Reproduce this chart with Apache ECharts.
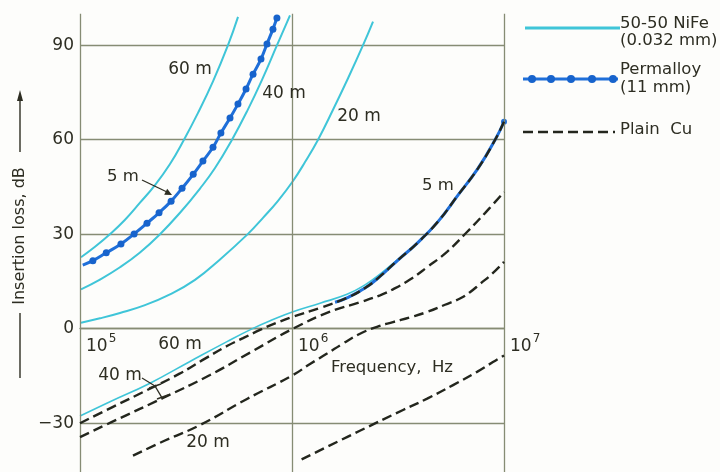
<!DOCTYPE html>
<html><head><meta charset="utf-8">
<script src="https://cdn.jsdelivr.net/npm/echarts@6/dist/echarts.min.js"></script>
<style>html,body{margin:0;padding:0;background:#fff}#c{width:720px;height:472px}</style>
</head><body><div id="c"></div>
<script>
// ---- data (frequency in Hz, insertion loss in dB) ----
const xTickExponents = [5, 6, 7];
const yTicks = [-30, 0, 30, 60, 90];

// 50-50 NiFe (0.032 mm)
const nife60 = [[1.011e5,22.7],[1.177e5,26],[1.400e5,30.3],[1.631e5,34.6],[1.919e5,40.0],[2.258e5,45.6],[2.658e5,52.3],[3.094e5,60],[3.603e5,68.5],[4.240e5,78.5],[4.990e5,90],[5.564e5,99]];
const nife40 = [[1.011e5,12.5],[1.242e5,15.6],[1.544e5,19.5],[1.919e5,24.2],[2.385e5,30],[2.963e5,36.8],[3.682e5,44.5],[4.334e5,51],[5.212e5,60],[6.134e5,69],[7.220e5,79],[8.498e5,90],[9.785e5,99.5]];
const nife20 = [[1.011e5,1.9],[1.242e5,3.3],[1.544e5,5.0],[2.026e5,7.5],[2.658e5,10.9],[3.487e5,15.5],[4.576e5,22],[6.200e5,30.1],[7.298e5,35.2],[8.590e5,40.6],[1.011e6,46.9],[1.152e6,52.9],[1.327e6,60],[1.561e6,69.5],[1.838e6,79.5],[2.163e6,90],[2.411e6,97.5]];
const nife5  = [[1.0e5,-27.7],[1.385e5,-23.2],[2.139e5,-17.3],[3.303e5,-10.4],[4.936e5,-4.1],[6.548e5,0.1],[8.136e5,2.9],[1.011e6,5.4],[1.356e6,8.1],[1.818e6,10.9],[2.210e6,13.9],[2.601e6,17.3],[3.162e6,22.0],[3.888e6,27.1],[4.883e6,34],[6.068e6,42.4],[7.540e6,50.9],[9.070e6,59.9],[1.0e7,65.7]];
// Permalloy (11 mm)
const perm5  = [[1.03e5,20.2],[1.15e5,21.6],[1.33e5,24.1],[1.56e5,26.9],[1.80e5,30.1],[2.07e5,33.5],[2.36e5,36.8],[2.69e5,40.5],[3.03e5,44.6],[3.42e5,49.0],[3.80e5,53.2],[4.24e5,57.6],[4.62e5,62.1],[5.10e5,66.9],[5.56e5,71.3],[6.07e5,76.1],[6.55e5,80.8],[7.14e5,85.6],[7.62e5,90.4],[8.13e5,95.1],[8.49e5,98.6]];
const perm5Right = [[1.596e6,8.4],[1.818e6,9.8],[2.210e6,12.9],[2.601e6,16.6],[3.162e6,21.8],[3.888e6,27.1],[4.883e6,34],[6.068e6,42.4],[7.540e6,50.9],[9.070e6,59.9],[1.0e7,65.7]];
// Plain Cu
const cuA = [[1.0e5,-30],[1.431e5,-24.8],[2.070e5,-19.5],[2.963e5,-14.2],[3.888e5,-9.5],[4.936e5,-5.5],[5.874e5,-3],[7.065e5,-0.4],[8.406e5,1.8],[1.011e6,3.8],[1.356e6,6.6],[1.818e6,9.8],[2.210e6,12.9],[2.601e6,16.6],[3.162e6,21.8],[3.888e6,27.1],[4.883e6,34],[6.068e6,42.4],[7.540e6,50.9],[9.070e6,59.9],[1.0e7,65.7]];
const cuB = [[1.0e5,-34.4],[1.544e5,-28.4],[2.463e5,-22],[4.105e5,-14.7],[6.338e5,-7.6],[1.011e6,0],[1.511e6,5.4],[2.093e6,8.4],[2.601e6,10.6],[2.995e6,12.5],[3.603e6,15.6],[4.334e6,19.5],[5.384e6,24.4],[6.692e6,30.7],[8.136e6,36.7],[1.0e7,43.4]];
const cuC = [[1.778e5,-40.3],[2.518e5,-35.5],[3.682e5,-30.6],[6.134e5,-22.3],[1.011e6,-14.7],[1.216e6,-11.2],[1.463e6,-7.9],[1.740e6,-4.7],[2.093e6,-1.6],[2.518e6,0.6],[2.995e6,2.1],[3.603e6,3.6],[4.334e6,5.3],[5.269e6,7.6],[6.201e6,9.6],[6.911e6,11.6],[7.706e6,14.2],[8.779e6,17.4],[1.0e7,21.2]];
const cuD = [[1.11e6,-41.5],[2.09e6,-32.4],[3.34e6,-25.8],[4.34e6,-22.2],[5.75e6,-17.9],[7.46e6,-13.7],[8.87e6,-10.6],[1.0e7,-8.5]];

// legend swatch coordinates (legend grid space)
const legendNiFe = [[5,28],[100,28]];
const legendPermDots = [12,31,51,72,93];
const legendPermLine = [3,98];
const legendCu = [[3,132],[95,132]];

// ---- styles ----
const FONT = 'DejaVu Sans';
const TXT = '#2d2d22';
const GRIDC = '#868c74';
const CYAN = '#3fc5d8';
const BLUE = '#1f6fd9';
const DASH = '#23261d';

const chart = echarts.init(document.getElementById('c'), null, {renderer:'canvas'});

function curve(data, color, width, extra) {
  return Object.assign({
    type:'line', xAxisIndex:0, yAxisIndex:0, data:data, smooth:0.45,
    symbol:'none', silent:true, animation:false,
    lineStyle:{color:color, width:width}, itemStyle:{color:color}, z:3
  }, extra||{});
}
function dashed(data) {
  return curve(data, DASH, 2.4, {lineStyle:{color:DASH, width:2.4, type:[10,5]}, z:5});
}

const vLines = xTickExponents.map(e => [{coord:[Math.pow(10,e), -60]}, {coord:[Math.pow(10,e), 100]}]);

const permLegendData = [[legendPermLine[0],79]].concat(legendPermDots.map(x=>[x,79])).concat([[legendPermLine[1],79]])
  .map((p,i,a)=> (i===0||i===a.length-1) ? {value:p, symbol:'none'} : p);

const perm5Data = perm5.map((p,i)=> i===0 ? {value:p, symbol:'none'} : p);
const perm5RightData = perm5Right.map((p,i,a)=> i===a.length-1 ? {value:p, symbol:'circle', symbolSize:6} : p);

function txt(text, x, y, size, align, extra) {
  return Object.assign({type:'text', x:x, y:y, silent:true, z:50,
    style:{text:text, fill:TXT, font: size+'px "'+FONT+'"', textAlign:align||'center', align:align||'center',
      textVerticalAlign:'middle', verticalAlign:'middle'}}, extra||{});
}
function ln(x1,y1,x2,y2,w){ return {type:'line', silent:true, z:50, shape:{x1,y1,x2,y2}, style:{stroke:TXT, lineWidth:w||1.3}}; }

const option = {
  backgroundColor:'#fdfdfb',
  animation:false,
  grid:[
    {left:80, top:-49.3, width:424, height:567, outerBoundsMode:'none', containLabel:false},
    {left:520, top:0, width:100, height:150, outerBoundsMode:'none', containLabel:false}
  ],
  xAxis:[
    {type:'log', logBase:10, min:1e5, max:1e7, gridIndex:0, position:'bottom', offset:-189,
      splitLine:{show:false}, axisTick:{show:false},
      axisLine:{show:true, onZero:false, lineStyle:{color:GRIDC, width:1.3}},
      axisLabel:{show:true, align:'left', margin:4, padding:[0,0,0,6], hideOverlap:false,
        formatter: v => '{b|10}{s|' + Math.round(Math.log10(v)) + '}',
        rich:{ b:{fontSize:17, fontFamily:FONT, color:TXT, lineHeight:22, verticalAlign:'bottom'},
               s:{fontSize:12, fontFamily:FONT, color:TXT, lineHeight:13, verticalAlign:'top', padding:[0,0,0,1]} } }
    },
    {type:'value', min:0, max:100, gridIndex:1, show:false}
  ],
  yAxis:[
    {type:'value', min:-60, max:120, interval:30, gridIndex:0,
      axisLine:{show:false, onZero:false}, axisTick:{show:false},
      splitLine:{show:true, lineStyle:{color:GRIDC, width:1.3}},
      axisLabel:{margin:6, fontSize:17, fontFamily:FONT, color:TXT,
        formatter: v => yTicks.includes(v) ? (v<0 ? '\u2212'+(-v) : String(v)) : ''}
    },
    {type:'value', min:0, max:150, inverse:true, gridIndex:1, show:false}
  ],
  series:[
    {type:'line', xAxisIndex:0, yAxisIndex:0, data:[], silent:true, z:1,
      markLine:{silent:true, symbol:['none','none'], animation:false, label:{show:false},
        lineStyle:{color:GRIDC, width:1.3, type:'solid'}, data:vLines}},
    curve(nife60, CYAN, 2),
    curve(nife40, CYAN, 2),
    curve(nife20, CYAN, 2),
    curve(nife5, CYAN, 1.6),
    curve(perm5Right, BLUE, 3, {data:perm5RightData, z:4}),
    curve(perm5Data, BLUE, 3, {symbol:'circle', symbolSize:7, showAllSymbol:true, itemStyle:{color:'#1763cc'}, z:4}),
    dashed(cuA), dashed(cuB), dashed(cuC), dashed(cuD),
    // legend swatches
    {type:'line', xAxisIndex:1, yAxisIndex:1, data:legendNiFe, symbol:'none', silent:true, lineStyle:{color:CYAN, width:3}},
    {type:'line', xAxisIndex:1, yAxisIndex:1, data:permLegendData, symbol:'circle', symbolSize:8, silent:true,
      lineStyle:{color:BLUE, width:3}, itemStyle:{color:'#1763cc'}},
    {type:'line', xAxisIndex:1, yAxisIndex:1, data:legendCu, symbol:'none', silent:true, lineStyle:{color:DASH, width:2.4, type:[10,5]}}
  ],
  graphic:[
    // legend text
    txt('50-50 NiFe', 620, 24, 16.5, 'left'),
    txt('(0.032 mm)', 620, 41, 16.5, 'left'),
    txt('Permalloy', 620, 70, 16.5, 'left'),
    txt('(11 mm)', 620, 88, 16.5, 'left'),
    txt('Plain  Cu', 620, 130, 16.5, 'left'),
    // curve annotations
    txt('60 m', 190, 70, 17),
    txt('40 m', 284, 94, 17),
    txt('20 m', 359, 117, 17),
    txt('5 m', 123, 177, 16.5),
    txt('60 m', 180, 345, 17),
    txt('40 m', 120, 376, 17),
    txt('20 m', 208, 443, 17),
    txt('5 m', 438, 186, 16.5),
    txt('Frequency,  Hz', 392, 368, 16.5),
    // y axis name
    txt('Insertion loss, dB', 20, 236, 16, 'center', {rotation:Math.PI/2}),
    ln(20, 313, 20, 378, 1.4),
    ln(20, 152, 20, 97, 1.4),
    {type:'polygon', silent:true, z:50, shape:{points:[[17,101],[23,101],[20,90]]}, style:{fill:TXT}},
    // 5 m leader arrow
    ln(142, 180, 167, 192, 1.3),
    {type:'polygon', silent:true, z:50, shape:{points:[[172,195],[164.2,194.8],[167.2,188.8]]}, style:{fill:TXT}},
    // 40 m leader + bracket
    ln(142, 378, 155, 386, 1.3),
    ln(155, 386, 161.5, 397, 1.4),
    ln(149, 388, 161, 384, 1.4),
    ln(157, 399, 168, 395, 1.4)
  ]
};
chart.setOption(option);
</script></body></html>
